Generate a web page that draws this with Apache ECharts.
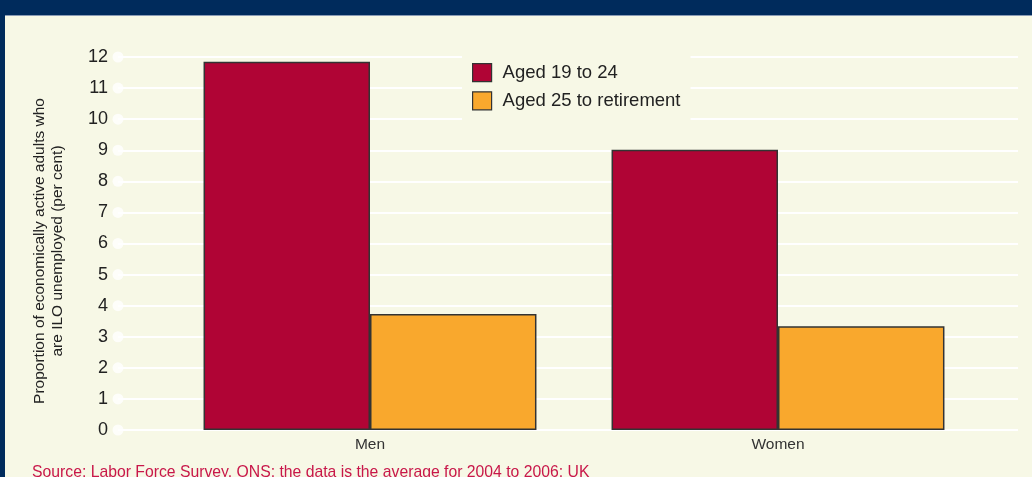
<!DOCTYPE html>
<html>
<head>
<meta charset="utf-8">
<script src="https://cdn.jsdelivr.net/npm/echarts@6/dist/echarts.min.js"></script>
<style>
html,body{margin:0;padding:0;background:#F7F8E6;}
#c{width:1032px;height:477px;}
</style>
</head>
<body>
<div id="c"></div>
<script>
const categories = ['Men', 'Women'];
const youngValues = [11.85, 9.02];
const olderValues = [3.73, 3.34];
const seriesNames = ['Aged 19 to 24', 'Aged 25 to retirement'];
const tickValues = [0,1,2,3,4,5,6,7,8,9,10,11,12];
const yTitle = 'Proportion of economically active adults who\nare ILO unemployed (per cent)';
const sourceText = 'Source: Labor Force Survey, ONS; the data is the average for 2004 to 2006; UK';

const chart = echarts.init(document.getElementById('c'), null, {renderer:'canvas'});
const font = 'Helvetica, Arial, "Liberation Sans", sans-serif';
chart.setOption({
  backgroundColor: '#F7F8E6',
  animation: false,
  textStyle: {fontFamily: font},
  grid: [
    {left: 118, right: 14, top: 57, bottom: 47},
    {left: 166, right: 50, top: 57, bottom: 47}
  ],
  xAxis: [
    {gridIndex: 0, type: 'value', min: 0, max: 1, show: false},
    {gridIndex: 1, type: 'category', data: categories,
     axisLine: {show: false}, axisTick: {show: false},
     axisLabel: {fontSize: 15.5, color: '#333', margin: 7, fontFamily: font}}
  ],
  yAxis: [
    {gridIndex: 0, type: 'value', min: 0, max: 12, interval: 1,
     axisLine: {show: false}, axisTick: {show: false},
     axisLabel: {fontSize: 18, color: '#222', margin: 10, fontFamily: font},
     splitLine: {show: true, lineStyle: {color: '#FFFFFF', width: 2}}},
    {gridIndex: 1, type: 'value', min: 0, max: 12, interval: 1, show: false,
     splitLine: {show: false}}
  ],
  legend: {
    orient: 'vertical', left: 462, top: 54,
    padding: [9, 10, 13, 10], itemGap: 9,
    itemWidth: 19, itemHeight: 18,
    icon: 'rect',
    itemStyle: {borderColor: '#333', borderWidth: 1.2},
    backgroundColor: '#F7F8E6',
    textStyle: {fontSize: 18.5, color: '#222', fontFamily: font, padding: [0, 0, 0, 6]},
    data: seriesNames
  },
  graphic: [
    {type: 'rect', shape: {x: 0, y: 0, width: 1032, height: 15}, style: {fill: '#002B5C'}, z: 100},
    {type: 'rect', shape: {x: 0, y: 15, width: 1032, height: 1}, style: {fill: '#8A9BB5'}, z: 100},
    {type: 'rect', shape: {x: 0, y: 0, width: 5, height: 477}, style: {fill: '#002B5C'}, z: 100},
    {type: 'text', x: 49, y: 251, rotation: Math.PI / 2,
     style: {text: yTitle, fontSize: 15.5, fill: '#222', textAlign: 'center', textVerticalAlign: 'middle', lineHeight: 18, fontFamily: font}},
    {type: 'text', x: 32, y: 465,
     style: {text: sourceText, fontSize: 15.75, fill: '#C8174A', textAlign: 'left', textVerticalAlign: 'top', fontFamily: font}}
  ],
  series: [
    {type: 'scatter', xAxisIndex: 0, yAxisIndex: 0, data: tickValues.map(v => [0, v]),
     symbol: 'circle', symbolSize: 11, itemStyle: {color: '#FFFFFF'}, clip: false, silent: true, z: 3},
    {name: seriesNames[0], type: 'bar', xAxisIndex: 1, yAxisIndex: 1, data: youngValues,
     barGap: '0%', barCategoryGap: '18.4%',
     itemStyle: {color: '#B00435', borderColor: '#333', borderWidth: 1.5}},
    {name: seriesNames[1], type: 'bar', xAxisIndex: 1, yAxisIndex: 1, data: olderValues,
     barGap: '0%', barCategoryGap: '18.4%',
     itemStyle: {color: '#F9A82D', borderColor: '#333', borderWidth: 1.5}}
  ]
});
</script>
</body>
</html>
